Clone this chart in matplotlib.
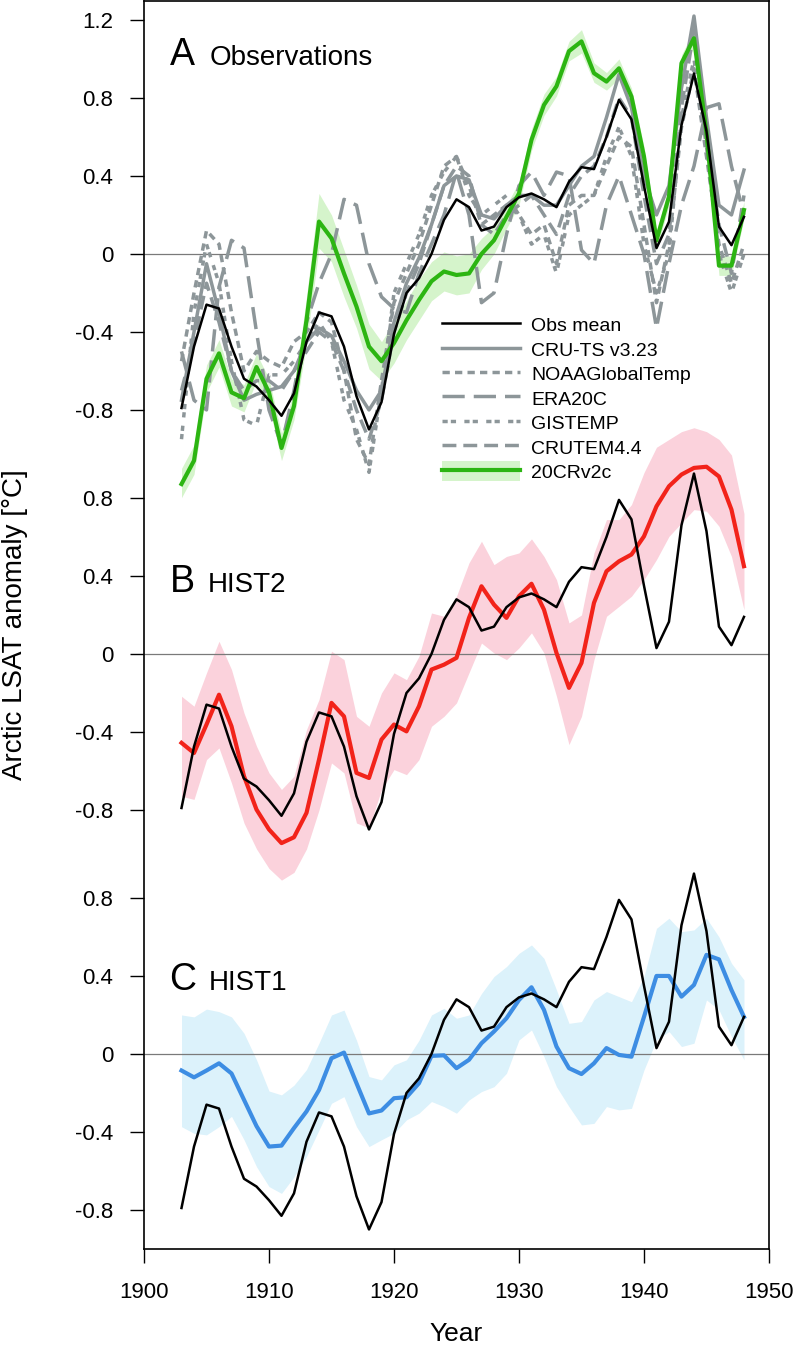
import matplotlib
matplotlib.use('Agg')
import matplotlib.pyplot as plt
from matplotlib.patches import Patch

plt.rcParams['font.family'] = ['Liberation Sans', 'DejaVu Sans']

#%%
# values, 1903-1948
years = list(range(1903, 1949))

obs_mean = [-0.79, -0.475, -0.26, -0.28, -0.475, -0.64, -0.68, -0.75, -0.83, -0.715,
            -0.45, -0.30, -0.32, -0.475, -0.73, -0.90, -0.76, -0.41, -0.20, -0.125,
            0.00, 0.175, 0.28, 0.24, 0.12, 0.14, 0.24, 0.29, 0.31, 0.28,
            0.24, 0.37, 0.445, 0.435, 0.60, 0.79, 0.69, 0.35, 0.03, 0.165,
            0.66, 0.925, 0.63, 0.14, 0.045, 0.19]

cru_ts = [-0.75, -0.40, -0.05, -0.30, -0.60, -0.75, -0.72, -0.70, -0.68, -0.60,
          -0.45, -0.38, -0.42, -0.55, -0.70, -0.80, -0.70, -0.35, -0.15, -0.02,
          0.15, 0.35, 0.40, 0.38, 0.20, 0.18, 0.25, 0.30, 0.30, 0.25,
          0.25, 0.35, 0.45, 0.50, 0.70, 0.92, 0.75, 0.40, 0.20, 0.35,
          0.85, 1.22, 0.70, 0.25, 0.20, 0.43]
noaa = [-0.55, -0.20, 0.12, 0.05, -0.30, -0.60, -0.50, -0.55, -0.58, -0.45,
        -0.40, -0.30, -0.35, -0.60, -0.95, -1.08, -0.65, -0.25, -0.10, 0.05,
        0.25, 0.45, 0.50, 0.35, 0.15, 0.20, 0.25, 0.20, 0.10, 0.15,
        -0.05, 0.25, 0.30, 0.30, 0.45, 0.60, 0.55, 0.15, -0.25, 0.05,
        0.65, 0.95, 0.50, 0.05, -0.15, 0.05]
era20c = [-0.50, -0.75, -0.80, -0.17, 0.07, 0.03, -0.40, -0.80, -0.98, -0.70,
          -0.35, -0.15, 0.00, 0.28, 0.25, -0.05, -0.22, -0.28, -0.30, -0.10,
          0.05, 0.20, 0.42, 0.20, -0.25, -0.20, 0.10, 0.35, 0.42, 0.30,
          0.42, 0.40, 0.02, -0.05, 0.25, 0.40, 0.20, 0.00, -0.38, -0.05,
          0.25, 0.45, 0.75, 0.77, 0.45, 0.20]
gistemp = [-0.95, -0.30, 0.05, -0.15, -0.55, -0.85, -0.88, -0.62, -0.62, -0.55,
           -0.45, -0.35, -0.45, -0.75, -0.90, -1.12, -0.70, -0.20, -0.05, 0.10,
           0.30, 0.42, 0.50, 0.30, 0.20, 0.25, 0.30, 0.20, 0.05, 0.10,
           -0.10, 0.20, 0.25, 0.30, 0.50, 0.65, 0.50, 0.05, -0.20, 0.00,
           0.70, 1.00, 0.55, 0.00, -0.20, 0.00]
crutem = [-0.70, -0.45, -0.15, -0.35, -0.60, -0.70, -0.65, -0.65, -0.70, -0.60,
          -0.50, -0.40, -0.45, -0.60, -0.80, -0.95, -0.75, -0.40, -0.20, -0.05,
          0.15, 0.35, 0.45, 0.40, 0.15, 0.10, 0.20, 0.25, 0.30, 0.20,
          0.10, 0.30, 0.40, 0.45, 0.60, 0.80, 0.70, 0.30, -0.05, 0.10,
          0.75, 1.15, 0.60, 0.15, -0.10, 0.30]

cr20 = [-1.18, -1.06, -0.64, -0.51, -0.71, -0.74, -0.58, -0.71, -0.995, -0.78,
        -0.34, 0.166, 0.08, -0.10, -0.27, -0.475, -0.55, -0.457, -0.34, -0.236,
        -0.14, -0.09, -0.108, -0.10, 0.0, 0.07, 0.19, 0.31, 0.585, 0.764,
        0.86, 1.04, 1.09, 0.927, 0.884, 0.952, 0.807, 0.50, 0.07, 0.294,
        0.978, 1.106, 0.62, -0.06, -0.06, 0.225]
cr20_hi = [-1.10, -0.98, -0.57, -0.44, -0.64, -0.67, -0.51, -0.64, -0.92, -0.70,
           -0.22, 0.31, 0.20, 0.02, -0.16, -0.36, -0.45, -0.35, -0.24, -0.13,
           -0.04, 0.01, -0.01, 0.0, 0.08, 0.14, 0.25, 0.37, 0.64, 0.82,
           0.91, 1.09, 1.15, 0.98, 0.93, 1.0, 0.85, 0.55, 0.12, 0.34,
           1.02, 1.15, 0.67, -0.01, -0.01, 0.27]
cr20_lo = [-1.25, -1.13, -0.71, -0.58, -0.78, -0.81, -0.65, -0.78, -1.06, -0.85,
           -0.46, 0.03, -0.04, -0.22, -0.38, -0.59, -0.65, -0.56, -0.44, -0.34,
           -0.24, -0.19, -0.21, -0.20, -0.08, 0.0, 0.13, 0.25, 0.53, 0.71,
           0.81, 0.99, 1.03, 0.88, 0.84, 0.90, 0.76, 0.45, 0.02, 0.25,
           0.93, 1.06, 0.57, -0.11, -0.11, 0.18]

hist2 = [-0.456, -0.508, -0.362, -0.209, -0.371, -0.627, -0.798, -0.90, -0.97, -0.94,
         -0.815, -0.542, -0.251, -0.32, -0.61, -0.636, -0.439, -0.362, -0.397, -0.268,
         -0.08, -0.055, -0.02, 0.185, 0.347, 0.253, 0.185, 0.296, 0.36, 0.227,
         0.005, -0.174, -0.046, 0.262, 0.424, 0.475, 0.51, 0.603, 0.757, 0.86,
         0.92, 0.954, 0.96, 0.91, 0.74, 0.45]
hist2_hi = [-0.217, -0.268, -0.097, 0.065, -0.08, -0.303, -0.473, -0.61, -0.695, -0.627,
            -0.388, -0.234, 0.014, -0.029, -0.32, -0.371, -0.2, -0.097, -0.132, -0.012,
            0.21, 0.193, 0.296, 0.467, 0.578, 0.458, 0.5, 0.518, 0.59, 0.5,
            0.381, 0.159, 0.2, 0.518, 0.689, 0.689, 0.766, 0.93, 1.06, 1.10,
            1.14, 1.16, 1.14, 1.10, 1.02, 0.72]
hist2_lo = [-0.73, -0.746, -0.542, -0.482, -0.662, -0.867, -1.0, -1.1, -1.16, -1.12,
            -1.0, -0.8, -0.559, -0.61, -0.867, -0.892, -0.696, -0.593, -0.619, -0.542,
            -0.371, -0.32, -0.251, -0.097, 0.056, 0.005, -0.029, 0.031, 0.108, 0.005,
            -0.217, -0.465, -0.32, -0.029, 0.193, 0.244, 0.296, 0.381, 0.484, 0.603,
            0.672, 0.74, 0.732, 0.655, 0.5, 0.227]

hist1 = [-0.085, -0.12, -0.085, -0.048, -0.10, -0.235, -0.37, -0.475, -0.47, -0.38,
         -0.295, -0.185, -0.022, 0.007, -0.15, -0.305, -0.29, -0.227, -0.222, -0.15,
         -0.01, -0.007, -0.073, -0.03, 0.055, 0.115, 0.183, 0.277, 0.342, 0.226,
         0.038, -0.073, -0.103, -0.048, 0.03, -0.005, -0.014, 0.19, 0.40, 0.40,
         0.294, 0.354, 0.508, 0.485, 0.328, 0.19]
hist1_hi = [0.20, 0.19, 0.23, 0.217, 0.19, 0.106, -0.03, -0.19, -0.21, -0.16,
            -0.08, 0.055, 0.20, 0.225, 0.07, -0.116, -0.133, -0.056, -0.03, 0.07,
            0.20, 0.234, 0.183, 0.20, 0.31, 0.397, 0.448, 0.516, 0.559, 0.49,
            0.328, 0.157, 0.166, 0.277, 0.32, 0.294, 0.268, 0.397, 0.644, 0.696,
            0.627, 0.636, 0.696, 0.60, 0.465, 0.38]
hist1_lo = [-0.373, -0.407, -0.415, -0.373, -0.32, -0.44, -0.578, -0.68, -0.715, -0.63,
            -0.526, -0.39, -0.253, -0.219, -0.373, -0.475, -0.44, -0.407, -0.338, -0.304,
            -0.244, -0.27, -0.304, -0.236, -0.193, -0.168, -0.099, 0.072, 0.123, -0.014,
            -0.168, -0.27, -0.364, -0.356, -0.27, -0.287, -0.279, -0.082, 0.072, 0.115,
            0.038, 0.055, 0.277, 0.226, 0.089, -0.03]

ticks_A = [-0.8, -0.4, 0.0, 0.4, 0.8, 1.2]
ticks_BC = [-0.8, -0.4, 0.0, 0.4, 0.8]
xticks = [1900, 1910, 1920, 1930, 1940, 1950]

#%%
# the three panels share one frame, each one shifted down
shift = {'A': 0.0, 'B': -2.0513, 'C': -4.1026}

GRAY = '#8d9699'
GREEN = '#2cb512'
LGREEN = '#d5f4cb'
RED = '#f2231a'
PINK = '#fbd2dc'
BLUE = '#3d8de3'
LBLUE = '#dcf2fb'

def up(vals, panel):
    return [v + shift[panel] for v in vals]

def tick_label(v):
    return '0' if v == 0 else '%.1f' % v

fig = plt.figure(figsize=(7.93, 13.46), dpi=100)
ax = fig.add_axes([0.1816, 0.0721, 0.7881, 0.9272])

# panel A
ax.fill_between(years, up(cr20_lo, 'A'), up(cr20_hi, 'A'), color=LGREEN, lw=0, zorder=1)
gw = 2.5
h_cru, = ax.plot(years, cru_ts, color=GRAY, lw=gw, zorder=3, label='CRU-TS v3.23')
h_noaa, = ax.plot(years, noaa, color=GRAY, lw=gw, ls=(0, (2.1, 1.5)), zorder=3,
                  label='NOAAGlobalTemp')
h_era, = ax.plot(years, era20c, color=GRAY, lw=gw, ls=(0, (6.4, 2.6)), zorder=3,
                 label='ERA20C')
h_gis, = ax.plot(years, gistemp, color=GRAY, lw=gw, ls=(0, (1.5, 0.9, 1.5, 2.4)),
                 zorder=3, label='GISTEMP')
h_crutem, = ax.plot(years, crutem, color=GRAY, lw=gw, ls=(0, (4.0, 2.0)), zorder=3,
                    label='CRUTEM4.4')
h_20cr, = ax.plot(years, cr20, color=GREEN, lw=3.0, zorder=4)
h_obs, = ax.plot(years, obs_mean, color='black', lw=1.8, zorder=5, label='Obs mean')

# panel B
ax.fill_between(years, up(hist2_lo, 'B'), up(hist2_hi, 'B'), color=PINK, lw=0, zorder=1)
ax.plot(years, up(hist2, 'B'), color=RED, lw=3.0, zorder=4)
ax.plot(years, up(obs_mean, 'B'), color='black', lw=1.8, zorder=5)

# panel C
ax.fill_between(years, up(hist1_lo, 'C'), up(hist1_hi, 'C'), color=LBLUE, lw=0, zorder=1)
ax.plot(years, up(hist1, 'C'), color=BLUE, lw=3.0, zorder=4)
ax.plot(years, up(obs_mean, 'C'), color='black', lw=1.8, zorder=5)

# zero lines
for p in 'ABC':
    ax.axhline(shift[p], color='#7a7a7a', lw=0.9, zorder=2)

# panel titles
title_kw = dict(va='baseline', ha='left', zorder=6)
ax.text(1902.1, 0.97, 'A', fontsize=27, **title_kw)
ax.text(1905.25, 0.97, 'Observations', fontsize=20, **title_kw)
ax.text(1902.1, 0.32 + shift['B'], 'B', fontsize=27, **title_kw)
ax.text(1905.1, 0.32 + shift['B'], 'HIST2', fontsize=20, **title_kw)
ax.text(1902.0, 0.33 + shift['C'], 'C', fontsize=27, **title_kw)
ax.text(1905.2, 0.33 + shift['C'], 'HIST1', fontsize=20, **title_kw)

# y ticks, one set per panel
yt, yl = [], []
for p, tl in (('A', ticks_A), ('B', ticks_BC), ('C', ticks_BC)):
    for v in tl:
        yt.append(v + shift[p])
        yl.append(tick_label(v))
ax.set_yticks(yt)
ax.set_yticklabels(yl)
ax.set_xticks(xticks)
ax.set_xticklabels([str(x) for x in xticks])
ax.set_xlim(1900, 1950)
ax.set_ylim(-5.1026, 1.2974)
ax.tick_params(axis='y', direction='out', length=10, width=1.0, pad=12, labelsize=16,
               right=False)
ax.tick_params(axis='x', direction='out', length=10, width=1.0, pad=14, labelsize=16,
               top=False)
for s in ax.spines.values():
    s.set_linewidth(1.2)

# legend
band = Patch(facecolor=LGREEN, edgecolor='none')
handles = [h_obs, h_cru, h_noaa, h_era, h_gis, h_crutem, (band, h_20cr)]
labels = ['Obs mean', 'CRU-TS v3.23', 'NOAAGlobalTemp', 'ERA20C', 'GISTEMP',
          'CRUTEM4.4', '20CRv2c']
ax.legend(handles, labels, loc='upper left', bbox_to_anchor=(0.4768, 0.7484),
          frameon=False, fontsize=14, handlelength=4.0, handleheight=1.2,
          handletextpad=0.6, labelspacing=0.2, borderpad=0, borderaxespad=0)

fig.text(15 / 793, 0.5357, 'Arctic LSAT anomaly [°C]', rotation=90, fontsize=20,
         ha='center', va='center')
fig.text(0.5757, 12 / 1346, 'Year', fontsize=19, ha='center', va='center')

fig.savefig('out.png', dpi=100)
